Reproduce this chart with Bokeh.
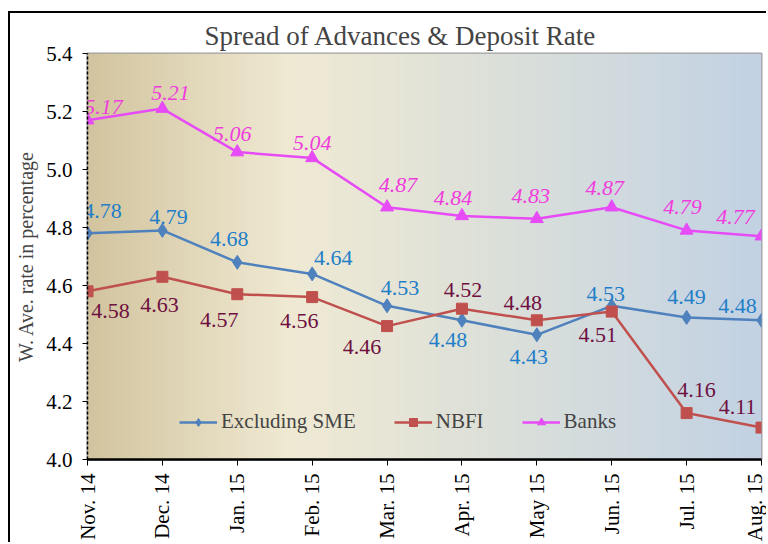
import numpy as np
from bokeh.plotting import figure
from bokeh.models import (ColumnDataSource, Range1d, FixedTicker, PrintfTickFormatter,
                          Legend, LegendItem)
from bokeh.core.properties import value
from bokeh.embed import file_html
from bokeh.resources import INLINE

# ---- data ----
months = ["Nov. 14", "Dec. 14", "Jan. 15", "Feb. 15", "Mar. 15",
          "Apr. 15", "May 15", "Jun. 15", "Jul. 15", "Aug. 15"]
excl_sme = [4.78, 4.79, 4.68, 4.64, 4.53, 4.48, 4.43, 4.53, 4.49, 4.48]
nbfi = [4.58, 4.63, 4.57, 4.56, 4.46, 4.52, 4.48, 4.51, 4.16, 4.11]
banks = [5.17, 5.21, 5.06, 5.04, 4.87, 4.84, 4.83, 4.87, 4.79, 4.77]
y_ticks = [4.0, 4.2, 4.4, 4.6, 4.8, 5.0, 5.2, 5.4]

# ---- label placement (screen px offsets, styling only) ----
banks_dx = [16, 8, -5, 0, 11, -9, -6, -7, -4, -26]
banks_dy = [-13, -16, -18, -15, -22, -18, -23, -19, -23, -19]
excl_dx = [15, 6, -8, 21, 13, -14, -8, -6, 0, -24]
excl_dy = [-22, -13, -23, -16, -18, 20, 22, -12, -20, -14]
nbfi_dx = [23, -3, -18, -13, -25, 1, -14, -14, 10, -24]
nbfi_dy = [20, 28, 26, 24, 21, -19, -17, 23, -23, -21]

FONT = "Liberation Serif"
xs = list(range(len(months)))

p = figure(width=758, height=531, output_backend="svg", toolbar_location=None,
           x_range=Range1d(0, len(months) - 1), y_range=Range1d(y_ticks[0], y_ticks[-1]),
           min_border_left=77, min_border_right=7, min_border_top=40, min_border_bottom=82,
           background_fill_color="white", border_fill_color="white")
p.styles = {"border-top": "2px solid #000", "border-left": "2px solid #000",
            "margin-top": "11px", "margin-left": "8px"}

# title
p.title.text = "Spread of  Advances & Deposit Rate"
p.title.text_font = FONT
p.title.text_font_size = "27px"
p.title.text_font_style = "normal"
p.title.align = "left"
p.title.offset = 117
p.title.standoff = 6

# background gradient
stops = np.array([0.0, 0.3, 0.55, 1.0])
cols = np.array([[210, 196, 158], [240, 234, 212], [224, 226, 216], [194, 210, 228]], float)
N = 400
t = np.linspace(0, 1, N)
rgb = np.stack([np.interp(t, stops, cols[:, k]) for k in range(3)], axis=1)
img = np.empty((2, N), dtype=np.uint32)
view = img.view(dtype=np.uint8).reshape((2, N, 4))
for r in range(2):
    view[r, :, 0] = rgb[:, 0]
    view[r, :, 1] = rgb[:, 1]
    view[r, :, 2] = rgb[:, 2]
    view[r, :, 3] = 255
p.image_rgba(image=[img], x=0, y=y_ticks[0], dw=len(months) - 1, dh=y_ticks[-1] - y_ticks[0])

# grid / outline
p.xgrid.visible = False
p.ygrid.ticker = FixedTicker(ticks=y_ticks)
p.ygrid.grid_line_color = "#B4B4B4"
p.ygrid.grid_line_width = 1.5
p.outline_line_color = "#A0A0A0"
p.outline_line_width = 2

# series
src_b = ColumnDataSource(dict(x=xs, y=banks, t=[f"{v:.2f}" for v in banks], dx=banks_dx, dy=banks_dy))
src_e = ColumnDataSource(dict(x=xs, y=excl_sme, t=[f"{v:.2f}" for v in excl_sme], dx=excl_dx, dy=excl_dy))
src_n = ColumnDataSource(dict(x=xs, y=nbfi, t=[f"{v:.2f}" for v in nbfi], dx=nbfi_dx, dy=nbfi_dy))

le = p.line("x", "y", source=src_e, line_color="#4F81BD", line_width=2.5)
me = p.scatter("x", "y", source=src_e, marker="diamond", size=14, fill_color="#4F81BD", line_color="#4F81BD")
ln = p.line("x", "y", source=src_n, line_color="#C0504D", line_width=2.5)
mn = p.scatter("x", "y", source=src_n, marker="square", size=11, fill_color="#C0504D", line_color="#C0504D")
lb = p.line("x", "y", source=src_b, line_color="#E64BF5", line_width=2.5)
mb = p.scatter("x", "y", source=src_b, marker="triangle", size=13, fill_color="#E64BF5", line_color="#E64BF5")

p.text("x", "y", text="t", source=src_e, x_offset="dx", y_offset="dy", text_font=value(FONT),
       text_font_size="22px", text_color="#1F7EC8", text_align="center", text_baseline="middle")
p.text("x", "y", text="t", source=src_n, x_offset="dx", y_offset="dy", text_font=value(FONT),
       text_font_size="22px", text_color="#6E1040", text_align="center", text_baseline="middle")
p.text("x", "y", text="t", source=src_b, x_offset="dx", y_offset="dy", text_font=value(FONT),
       text_font_size="22px", text_font_style="italic", text_color="#F03CDC",
       text_align="center", text_baseline="middle")

# legend
legend = Legend(items=[LegendItem(label="Excluding SME", renderers=[le, me]),
                       LegendItem(label="NBFI", renderers=[ln, mn]),
                       LegendItem(label="Banks", renderers=[lb, mb])],
                orientation="horizontal", location=(92, 25),
                background_fill_alpha=0, border_line_color=None,
                label_text_font=FONT, label_text_font_size="21px",
                glyph_width=38, label_standoff=4, spacing=38, padding=0, margin=0)
p.add_layout(legend, "center")

# y axis
ya = p.yaxis[0]
ya.ticker = FixedTicker(ticks=y_ticks)
ya.formatter = PrintfTickFormatter(format="%.1f")
ya.axis_label = "W. Ave. rate in percentage"
ya.axis_label_text_font = FONT
ya.axis_label_text_font_size = "20px"
ya.axis_label_text_font_style = "normal"
ya.axis_label_standoff = 6
ya.major_label_text_font = FONT
ya.major_label_text_font_size = "21px"
ya.major_label_text_color = "black"
ya.axis_line_color = "black"
ya.axis_line_dash = "3 2"
ya.axis_line_width = 1.5
ya.major_tick_line_color = "black"
ya.major_tick_out = 5
ya.major_tick_in = 0
ya.minor_tick_line_color = None
ya.major_label_standoff = 10

# x axis
xa = p.xaxis[0]
xa.ticker = FixedTicker(ticks=xs)
xa.major_label_overrides = {i: m for i, m in enumerate(months)}
xa.major_label_orientation = np.pi / 2
xa.major_label_text_font = FONT
xa.major_label_text_font_size = "21px"
xa.major_label_text_color = "black"
xa.axis_line_color = "black"
xa.axis_line_width = 2.5
xa.major_tick_line_color = "black"
xa.major_tick_out = 6
xa.major_tick_in = 0
xa.minor_tick_line_color = None
xa.major_label_standoff = 8

open("out.html", "w").write(file_html(p, INLINE))
